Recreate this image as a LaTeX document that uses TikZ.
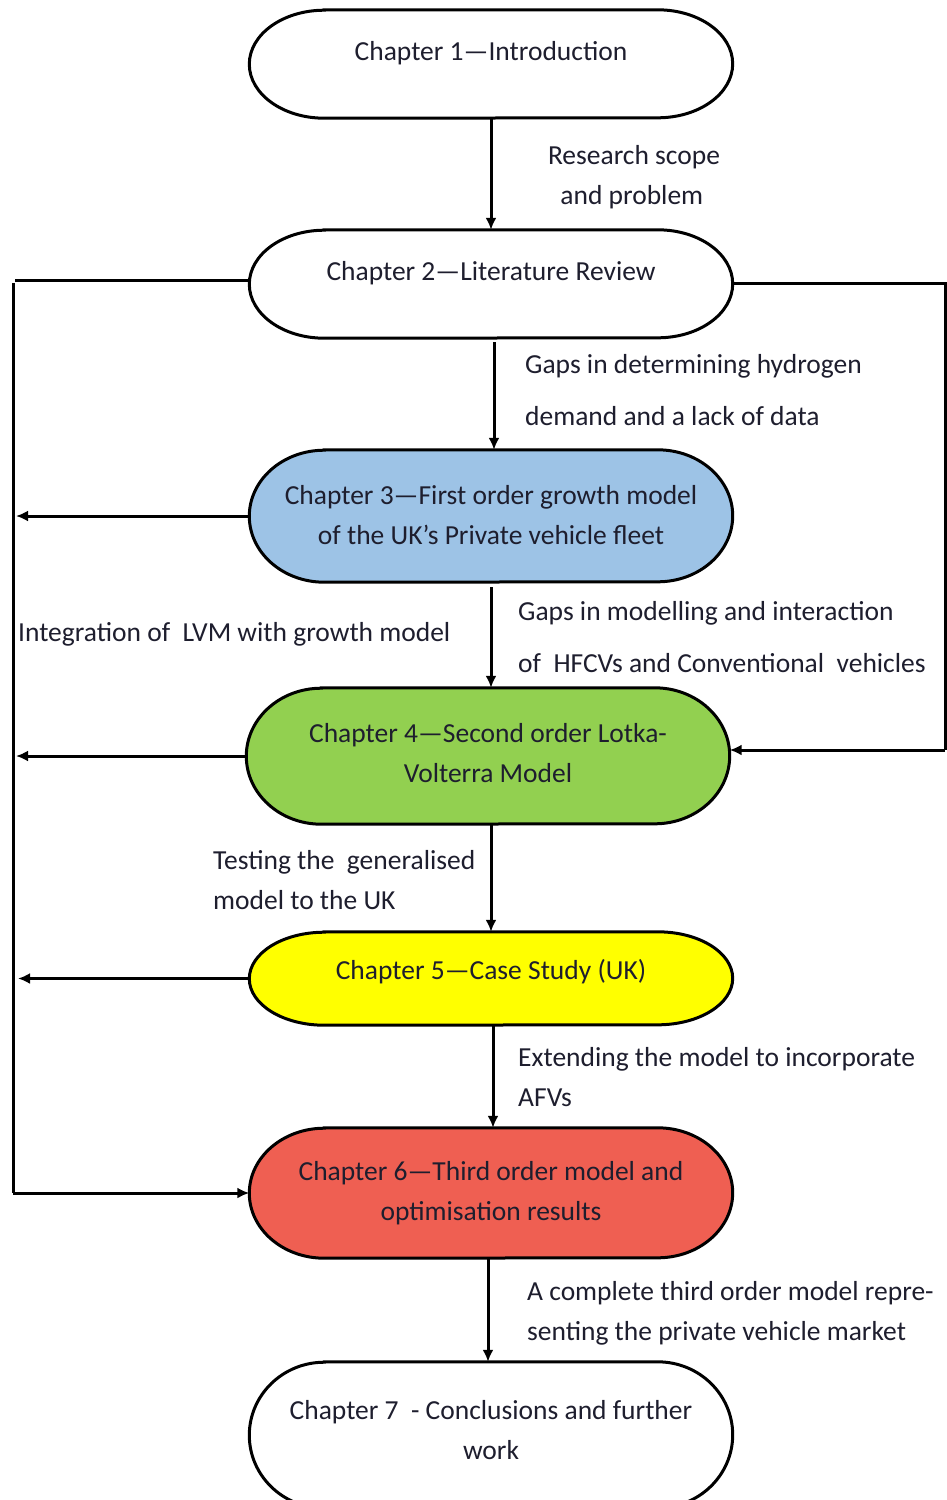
\documentclass[tikz,border=0pt]{standalone}
\usepackage{fontspec}
\setmainfont{Carlito}
\usetikzlibrary{arrows.meta,backgrounds,calc}
\definecolor{cblue}{HTML}{9DC3E6}
\definecolor{cgreen}{HTML}{92D050}
\definecolor{cyellow}{HTML}{FFFF00}
\definecolor{cred}{HTML}{EF5F52}
\definecolor{txt}{HTML}{1E1E2E}
\tikzset{
  chap/.style={draw=none, minimum width=483pt, inner sep=0pt},
  ctext/.style={align=center, inner sep=0pt, text=txt, font=\fontsize{27.5}{40}\selectfont},
  lbl/.style={align=left, anchor=west, inner sep=0pt, text=txt, font=\fontsize{27.5}{52}\selectfont},
  lbltight/.style={lbl, font=\fontsize{27.5}{40}\selectfont},
  bord/.style={line width=3pt},
  arr/.style={line width=3pt, -{Latex[length=12pt,width=11pt]}},
  ln/.style={line width=3pt},
}
\newcommand\stadium[3]{%
  \draw[bord, fill=#2] ([xshift=75pt]#1.north west) -- ([xshift=-75pt]#1.north east)
    arc[start angle=90, end angle=-90, x radius=75pt, y radius=#3pt]
    -- ([xshift=75pt]#1.south west)
    arc[start angle=270, end angle=90, x radius=75pt, y radius=#3pt] -- cycle;}
\begin{document}
\begin{tikzpicture}[x=1pt,y=1pt]
\clip (0,0) rectangle (947,-1500);
% shape nodes
\node[chap, minimum height=108pt] (c1) at (491,-64) {};
\node[chap, minimum height=108pt] (c2) at (491,-284) {};
\node[chap, minimum height=132pt] (c3) at (491,-516) {};
\node[chap, minimum height=136pt] (c4) at (488,-756) {};
\node[chap, minimum height=93pt] (c5) at (491,-978.5) {};
\node[chap, minimum height=130pt] (c6) at (491,-1193) {};
\node[chap, minimum height=146pt] (c7) at (491,-1435) {};
\begin{pgfonlayer}{background}
\fill[white] (0,0) rectangle (947,-1500);
\stadium{c1}{white}{54}
\stadium{c2}{white}{54}
\stadium{c3}{cblue}{66}
\stadium{c4}{cgreen}{68}
\stadium{c5}{cyellow}{46.5}
\stadium{c6}{cred}{65}
\stadium{c7}{white}{73}
\end{pgfonlayer}
% texts in shapes
\node[ctext] (t1) at (491,-53) {Chapter 1—Introduction};
\node[ctext] (t2) at (491,-273) {Chapter 2—Literature Review};
\node[ctext] (t3) at (491,-515) {Chapter 3—First order growth model\\of the UK’s Private vehicle fleet};
\node[ctext] (t4) at (488,-753) {Chapter 4—Second order Lotka-\\Volterra Model};
\node[ctext] (t5) at (491,-972) {Chapter 5—Case Study (UK)};
\node[ctext] (t6) at (491,-1193) {Chapter 6—Third order model and\\optimisation results};
\node[ctext] (t7) at (491,-1430) {Chapter 7\ \ - Conclusions and further\\work};
% vertical arrows
\draw[arr] (c1.south) -- (c2.north);
\draw[arr] ([xshift=3pt,yshift=-4pt]c2.south) -- ([xshift=3pt]c3.north);
\draw[arr] ([yshift=-5pt]c3.south) -- (c3.south |- c4.north);
\draw[arr] ([xshift=3pt]c4.south) -- (c5.north);
\draw[arr] ([xshift=2pt]c5.south) -- ([xshift=2pt]c6.north);
\draw[arr] ([xshift=-3pt]c6.south) -- ([xshift=-3pt]c7.north);
% left bus
\coordinate (l2) at (15,-280);
\coordinate (lb) at (13,-1193);
\draw[ln] ([yshift=4pt]c2.west) -- (l2);
\draw[ln] (13,-283) -- (lb);
\draw[arr] (lb) -- (c6.west);
\draw[arr] (c3.west) -- (16,-516);
\draw[arr] (c4.west) -- (16,-756);
\draw[arr] (c5.west) -- (18,-978.5);
% right bus
\coordinate (r1) at (945,-283);
\coordinate (r2) at (945,-750);
\draw[ln] ([yshift=1pt]c2.east) -- (r1) -- (r2);
\draw[arr] (r2) -- ([yshift=6pt]c4.east);
% labels
\node[lbltight, anchor=center] (L1) at (634,-177) {Research scope\\\ \ and problem};
\node[lbl] (L2) at (525,-390) {Gaps in determining hydrogen\\demand and a lack of data};
\node[lbl] (L3) at (518,-637) {Gaps in modelling and interaction\\of\ \ HFCVs and Conventional\ \ vehicles};
\node[lbl] (L4) at (18,-634) {Integration of\ \ LVM with growth model};
\node[lbltight] (L5) at (213,-880) {Testing the\ \ generalised\\model to the UK};
\node[lbltight] (L6) at (518,-1077) {Extending the model to incorporate\\AFVs};
\node[lbltight] (L7) at (527,-1313) {A complete third order model repre-\\senting the private vehicle market};
\end{tikzpicture}
\end{document}
